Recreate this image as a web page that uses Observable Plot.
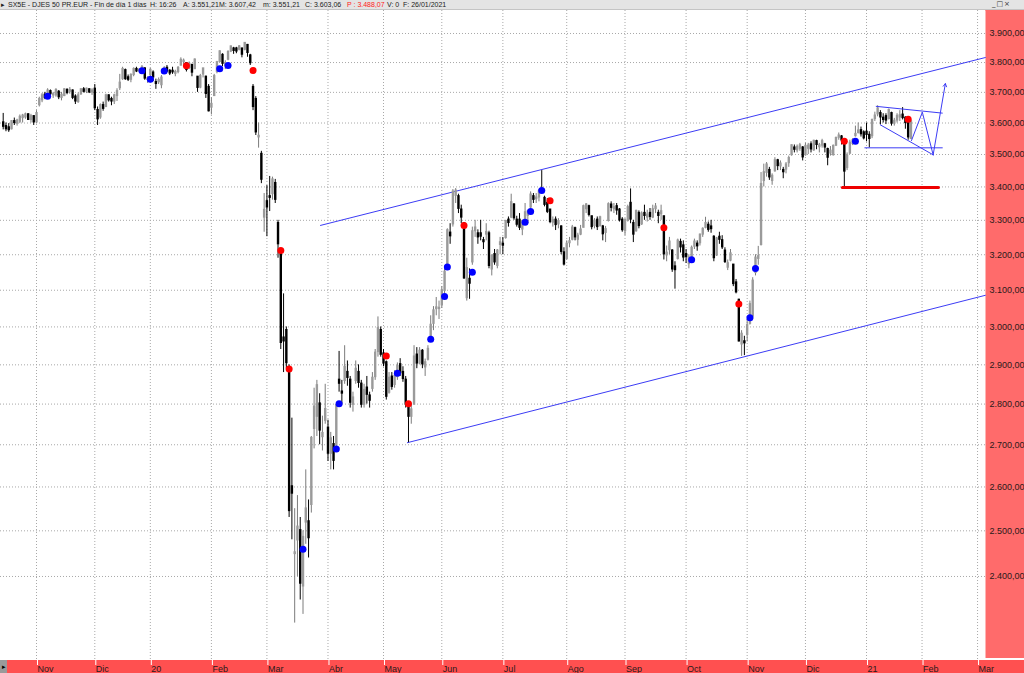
<!DOCTYPE html>
<html><head><meta charset="utf-8">
<script src="https://cdn.jsdelivr.net/npm/d3@7"></script>
<script src="https://cdn.jsdelivr.net/npm/@observablehq/plot@0.6"></script>
<style>
body{margin:0;background:#fff;font-family:"Liberation Sans",Arial,sans-serif;}
#wrap{position:relative;width:1024px;height:673px;overflow:hidden;background:#fff;}
#hdr{position:absolute;left:0;top:0;width:1024px;height:9px;background:#e4e4e4;border-bottom:1px solid #c4c4c4;font-size:7px;line-height:9px;color:#222;white-space:nowrap;overflow:hidden;}
#hdr span{position:absolute;top:0;}
#win{position:absolute;left:992px;top:0;width:30px;height:9px;font-family:"DejaVu Sans",sans-serif;font-size:7px;line-height:9px;color:#333;letter-spacing:1px;}
#rband{position:absolute;left:985px;top:10px;width:39px;height:648px;background:#ff6b6b;}
#bband{position:absolute;left:0;top:660px;width:1024px;height:13px;background:#ff5050;}
#lbox{position:absolute;left:0;top:660px;width:7px;height:13px;background:#9a9a9a;font-size:7px;line-height:13px;color:#000;text-align:center;}
#chart{position:absolute;left:0;top:10px;}
</style></head>
<body>
<div id="wrap">
  <div id="rband"></div>
  <div id="bband"></div>
  <div id="lbox">▸</div>
  <div id="hdr"></div>
  <div id="win">_□×</div>
  <div id="chart"></div>
</div>
<script>
// ---- OHLC data, one array per month: [open, high, low, close] ----
const oct19 = [[3600,3631,3578,3590],[3588,3600,3572,3582],[3584,3598,3570,3579],[3582,3608,3578,3604],[3604,3616,3592,3602],[3600,3612,3590,3606],[3606,3626,3598,3618],[3618,3628,3600,3622],[3620,3632,3612,3626],[3626,3630,3608,3612],[3612,3628,3600,3620],[3620,3624,3592,3604]];
const nov19 = [[3604,3640,3598,3630],[3660,3684,3652,3676],[3676,3696,3666,3688],[3690,3700,3676,3684],[3690,3712,3680,3704],[3702,3708,3686,3696],[3692,3700,3680,3692],[3692,3712,3684,3706],[3700,3706,3676,3686],[3684,3700,3672,3690],[3690,3712,3686,3708],[3706,3712,3692,3700],[3704,3716,3694,3706],[3704,3708,3676,3684],[3684,3692,3660,3672],[3670,3698,3664,3688],[3696,3712,3690,3708],[3708,3716,3698,3704],[3704,3714,3696,3710],[3708,3712,3696,3702],[3702,3712,3690,3704]];
const dec19 = [[3710,3726,3640,3650],[3640,3652,3592,3614],[3620,3662,3612,3656],[3656,3668,3638,3648],[3654,3694,3650,3688],[3688,3692,3668,3676],[3676,3684,3656,3672],[3672,3694,3660,3688],[3690,3712,3670,3702],[3716,3760,3706,3730],[3746,3784,3740,3776],[3772,3778,3740,3746],[3748,3758,3736,3744],[3744,3762,3732,3756],[3760,3782,3752,3776],[3776,3784,3766,3772],[3772,3778,3766,3774],[3778,3790,3770,3782],[3778,3782,3740,3748],[3744,3752,3730,3745]];
const jan20 = [[3760,3780,3744,3773],[3764,3772,3736,3752],[3732,3744,3710,3730],[3736,3748,3726,3739],[3726,3756,3712,3747],[3766,3786,3760,3778],[3780,3790,3766,3772],[3770,3776,3756,3765],[3770,3784,3760,3769],[3764,3774,3752,3766],[3770,3786,3762,3780],[3792,3816,3788,3807],[3804,3812,3792,3804],[3796,3800,3768,3777],[3784,3802,3776,3794],[3790,3792,3752,3768],[3780,3812,3776,3808],[3750,3752,3700,3717],[3718,3760,3712,3752],[3762,3780,3748,3778],[3750,3754,3680,3697],[3716,3726,3636,3640]];
const feb20 = [[3652,3682,3626,3660],[3690,3760,3688,3752],[3770,3804,3762,3799],[3804,3840,3800,3836],[3824,3830,3786,3798],[3790,3806,3776,3796],[3812,3840,3806,3834],[3840,3856,3834,3853],[3846,3852,3828,3842],[3846,3852,3830,3840],[3846,3858,3840,3853],[3846,3848,3816,3829],[3846,3868,3840,3865],[3858,3862,3818,3835],[3822,3828,3790,3800],[3716,3726,3640,3654],[3676,3686,3560,3572],[3556,3600,3520,3557],[3500,3510,3410,3424],[3310,3380,3265,3329]];
const mar20 = [[3355,3404,3252,3340],[3370,3432,3326,3369],[3380,3430,3360,3421],[3410,3423,3350,3363],[3290,3300,3190,3232],[3200,3216,2940,2959],[2970,3090,2880,2963],[2990,3000,2890,2906],[2889,2900,2530,2546],[2600,2765,2480,2586],[2450,2550,2302,2451],[2480,2580,2400,2508],[2500,2530,2350,2386],[2380,2500,2320,2485],[2520,2640,2470,2549],[2520,2570,2440,2485],[2560,2720,2540,2715],[2740,2840,2690,2792],[2770,2860,2720,2846],[2800,2826,2700,2736],[2720,2770,2685,2727],[2760,2850,2750,2786]];
const apr20 = [[2740,2760,2660,2680],[2680,2730,2640,2714],[2700,2720,2640,2663],[2700,2800,2690,2796],[2860,2935,2830,2853],[2830,2860,2800,2828],[2860,2950,2850,2893],[2880,2910,2845,2868],[2860,2870,2790,2805],[2800,2830,2780,2815],[2860,2910,2850,2888],[2880,2900,2840,2855],[2850,2860,2790,2800],[2800,2850,2790,2834],[2840,2870,2800,2825],[2820,2830,2790,2810],[2840,2880,2830,2865],[2870,2940,2860,2930],[2935,3027,2920,2995],[2990,3000,2920,2928]];
const may20 = [[2928,2940,2895,2905],[2905,2910,2810,2820],[2830,2880,2825,2865],[2868,2880,2835,2845],[2850,2885,2840,2870],[2870,2905,2860,2895],[2900,2916,2870,2880],[2880,2895,2855,2865],[2860,2870,2790,2800],[2800,2805,2705,2770],[2770,2800,2750,2785],[2800,2950,2800,2920],[2925,2945,2890,2905],[2905,2945,2900,2935],[2935,2940,2890,2903],[2895,2915,2870,2905],[2915,2950,2910,2940],[2975,3030,2965,3004],[3010,3055,2990,3043],[3050,3080,3030,3051],[3050,3070,3020,3050]];
const jun20 = [[3060,3110,3050,3098],[3100,3160,3090,3150],[3160,3275,3155,3269],[3262,3290,3230,3255],[3290,3392,3280,3384],[3375,3395,3350,3387],[3370,3378,3320,3336],[3330,3345,3290,3310],[3290,3292,3130,3135],[3080,3190,3070,3160],[3130,3160,3075,3120],[3180,3280,3170,3266],[3270,3300,3250,3277],[3260,3272,3230,3252],[3260,3300,3240,3254],[3240,3250,3215,3238],[3260,3290,3240,3264],[3260,3268,3160,3170],[3160,3200,3140,3195],[3200,3215,3170,3180],[3170,3215,3160,3210],[3230,3250,3200,3234]];
const jul20 = [[3230,3250,3200,3228],[3250,3300,3245,3296],[3300,3310,3280,3294],[3310,3378,3305,3352],[3345,3350,3300,3308],[3300,3312,3280,3289],[3300,3320,3270,3280],[3275,3300,3255,3296],[3300,3350,3295,3322],[3315,3330,3290,3325],[3340,3385,3335,3375],[3370,3380,3350,3363],[3365,3380,3350,3366],[3370,3392,3355,3385],[3390,3450,3380,3384],[3365,3372,3340,3348],[3350,3365,3320,3327],[3330,3332,3290,3297],[3295,3310,3280,3299],[3300,3310,3270,3288],[3290,3305,3275,3296],[3280,3284,3200,3210],[3205,3220,3168,3174]];
const aug20 = [[3190,3240,3185,3230],[3235,3250,3220,3237],[3245,3285,3240,3277],[3275,3280,3240,3252],[3245,3262,3225,3253],[3260,3285,3255,3271],[3280,3345,3278,3340],[3335,3350,3320,3345],[3340,3345,3310,3318],[3310,3312,3272,3282],[3285,3305,3275,3297],[3300,3310,3270,3282],[3285,3312,3280,3307],[3280,3285,3240,3261],[3265,3282,3235,3272],[3300,3352,3295,3346],[3345,3355,3325,3339],[3335,3350,3320,3337],[3340,3350,3315,3331],[3330,3335,3295,3302],[3300,3308,3265,3273]];
const sep20 = [[3270,3305,3255,3299],[3300,3345,3295,3337],[3350,3394,3290,3304],[3290,3300,3235,3260],[3270,3330,3265,3326],[3320,3328,3275,3285],[3290,3325,3285,3318],[3320,3345,3300,3315],[3310,3330,3295,3315],[3320,3335,3300,3312],[3310,3345,3305,3331],[3335,3350,3320,3339],[3320,3330,3290,3315],[3320,3345,3300,3325],[3310,3312,3185,3203],[3200,3225,3180,3204],[3215,3250,3200,3236],[3210,3215,3150,3160],[3165,3180,3103,3158],[3190,3245,3185,3239],[3235,3245,3205,3223],[3225,3240,3180,3194]];
const oct20 = [[3200,3215,3175,3195],[3175,3200,3160,3190],[3195,3225,3190,3218],[3225,3245,3215,3236],[3230,3240,3210,3226],[3235,3260,3225,3256],[3260,3278,3250,3273],[3280,3309,3275,3290],[3285,3295,3265,3274],[3280,3300,3262,3276],[3250,3255,3180,3192],[3200,3250,3195,3245],[3250,3265,3230,3245],[3240,3255,3215,3223],[3210,3220,3175,3181],[3165,3185,3155,3174],[3185,3215,3180,3202],[3170,3172,3110,3119],[3120,3130,3090,3096],[3072,3075,2960,2963],[2955,2990,2922,2980],[2960,2975,2924,2958]];
const nov20 = [[2980,3020,2960,3003],[3010,3070,3005,3060],[3030,3135,3020,3125],[3150,3200,3140,3190],[3190,3224,3170,3194],[3230,3444,3225,3407],[3420,3470,3400,3443],[3445,3475,3430,3467],[3450,3460,3420,3431],[3420,3440,3405,3432],[3450,3490,3445,3480],[3480,3485,3450,3466],[3465,3480,3450,3470],[3450,3460,3425,3447],[3455,3475,3440,3467],[3475,3495,3460,3487],[3500,3530,3495,3527],[3520,3530,3505,3517],[3515,3530,3505,3522],[3520,3535,3510,3527],[3520,3525,3480,3493]];
const dec20 = [[3500,3535,3495,3525],[3520,3535,3500,3526],[3530,3540,3505,3518],[3515,3545,3510,3541],[3540,3545,3515,3532],[3525,3535,3505,3527],[3530,3548,3520,3540],[3530,3535,3505,3524],[3515,3520,3465,3492],[3505,3525,3495,3510],[3500,3530,3495,3525],[3530,3555,3525,3550],[3555,3568,3545,3558],[3555,3560,3530,3546],[3546,3548,3398,3449],[3460,3505,3450,3495],[3505,3545,3500,3535],[3535,3550,3528,3543],[3560,3590,3555,3563],[3570,3600,3565,3574],[3575,3587,3555,3566],[3568,3575,3546,3553]];
const jan21 = [[3570,3600,3540,3564],[3560,3572,3521,3551],[3560,3612,3550,3608],[3615,3635,3605,3622],[3630,3656,3620,3645],[3630,3640,3594,3620],[3615,3630,3600,3612],[3620,3630,3595,3610],[3615,3645,3610,3640],[3630,3635,3590,3600],[3600,3615,3590,3605],[3610,3630,3600,3621],[3620,3640,3605,3623],[3625,3650,3610,3618],[3615,3620,3580,3602],[3610,3612,3545,3556],[3551,3607,3551,3603]];

// trading days in the months still to come on the axis (Jan 2021 in full, Feb 2021)
const aheadMonthDays = [20, 20];
const monthLabels = ["Nov","Dic","20","Feb","Mar","Abr","May","Jun","Jul","Ago","Sep","Oct","Nov","Dic","21","Feb","Mar"];
const priceTicks = [2400,2500,2600,2700,2800,2900,3000,3100,3200,3300,3400,3500,3600,3700,3800,3900];

// signals: [day index, price]
const buySignals = [[16,3687],[50,3772],[53,3744],[58,3771],[78,3779],[81,3790],[108,2459],[120,2690],[121,2801],[142,2878],[154,2967],[159,3083],[160,3165],[169,3150],[188,3294],[190,3326],[194,3389],[248,3186],[269,3025],[271,3161],[307,3542]];
const sellSignals = [[66,3789],[90,3773],[100,3212],[103,2889],[138,2923],[146,2801],[166,3285],[197,3358],[238,3278],[265,3062],[303,3542],[326,3612]];

// drawn studies: [day index, price]
const upperChannel = [[114.3,3285],[353.8,3817]];
const lowerChannel = [[145.6,2705],[353.8,3086]];
const supportLine = [[302.3,3398],[336.9,3398]];
const wedgeTop = [[314.5,3654],[338.3,3632]];
const wedgeBottom = [[316.0,3594],[335.0,3499]];
const wedgeBase = [[310.4,3521],[338.3,3521]];
const projection = [[327.2,3544],[331.1,3635],[335.0,3499]];
const projectionArrow = [[335.0,3499,339.4,3729]];

// header
const headerItems = [
  ["▸",1,"#222"],["SX5E - DJES 50 PR.EUR - Fin de día 1 días",8,"#222"],["H: 16:26",150,"#222"],
  ["A: 3.551,21",183,"#222"],["M: 3.607,42",219,"#222"],["m: 3.551,21",263,"#222"],
  ["C: 3.603,06",305,"#222"],["P : 3.488,07",347,"#ff2020"],["V: 0",387,"#222"],["F: 26/01/2021",403,"#222"]
];
const hdr = document.getElementById("hdr");
for (const [t,x,c] of headerItems) { const s=document.createElement("span"); s.textContent=t; s.style.left=x+"px"; s.style.color=c; hdr.appendChild(s); }

const dataMonths = [oct19,nov19,dec19,jan20,feb20,mar20,apr20,may20,jun20,jul20,aug20,sep20,oct20,nov20,dec20,jan21];
const candles = dataMonths.flat().map((d,i)=>({i,o:d[0],h:d[1],l:d[2],c:d[3]}));
const monthLens = dataMonths.slice(0,-1).map(m=>m.length).concat(aheadMonthDays);
const tickIdx = []; let acc = 0;
for (const n of monthLens) { acc += n; tickIdx.push(acc); }

const fmt = d3.formatLocale({decimal:",",thousands:".",grouping:[3],currency:["",""]}).format(",.2f");
const grid = {stroke:"#a8a8a8", strokeDasharray:"1,2", strokeWidth:1};
const blue = "#3c3cf5";
const pxy = {x:d=>d[0], y:d=>d[1]};

const chart = Plot.plot({
  width: 1024, height: 663,
  marginTop: 0, marginRight: 39, marginBottom: 14, marginLeft: 0,
  style: {background:"transparent", fontFamily:"'Liberation Sans', Arial, sans-serif", fontSize:"9px", color:"#222"},
  x: {type:"linear", domain:[-0.973, 353.86], axis:null, label:null},
  y: {type:"log", domain:[2228.3, 3981], axis:null, label:null},
  marks: [
    Plot.frame({fill:"#fff", stroke:"none"}),
    Plot.ruleY(priceTicks, grid),
    Plot.ruleX(tickIdx, grid),
    Plot.axisY({anchor:"right", label:null, ticks:priceTicks, tickSize:0, tickPadding:4, tickFormat:fmt, fontSize:9, fill:"#2a1a1a"}),
    Plot.axisX({anchor:"bottom", label:null, ticks:tickIdx, tickSize:6, tickPadding:0, stroke:"#ffffff", fill:"#2a1a1a", fontSize:9, textAnchor:"start", dx:1,
      tickFormat:(d)=>monthLabels[tickIdx.indexOf(d)]}),
    Plot.line(upperChannel, {...pxy, stroke:blue, strokeWidth:1}),
    Plot.line(lowerChannel, {...pxy, stroke:blue, strokeWidth:1}),
    Plot.ruleX(candles, {x:"i", y1:"l", y2:"h", stroke:d=>d.c>=d.o?"#7c7c7c":"#000", strokeWidth:1}),
    Plot.ruleX(candles, {x:"i", y1:"o", y2:"c", stroke:d=>d.c>=d.o?"#9a9a9a":"#000", strokeWidth:2.4, strokeLinecap:"square"}),
    Plot.line(wedgeTop, {...pxy, stroke:blue, strokeWidth:1}),
    Plot.line(wedgeBottom, {...pxy, stroke:blue, strokeWidth:1}),
    Plot.line(wedgeBase, {...pxy, stroke:blue, strokeWidth:1}),
    Plot.line(projection, {...pxy, stroke:blue, strokeWidth:1}),
    Plot.arrow(projectionArrow, {x1:d=>d[0], y1:d=>d[1], x2:d=>d[2], y2:d=>d[3], stroke:blue, strokeWidth:1, headLength:5}),
    Plot.line(supportLine, {...pxy, stroke:"#ee0000", strokeWidth:3}),
    Plot.dot(buySignals, {...pxy, r:3.5, fill:"#0000ff", stroke:"none"}),
    Plot.dot(sellSignals, {...pxy, r:3.5, fill:"#ff0000", stroke:"none"})
  ]
});
document.getElementById("chart").appendChild(chart);
</script>
</body></html>
